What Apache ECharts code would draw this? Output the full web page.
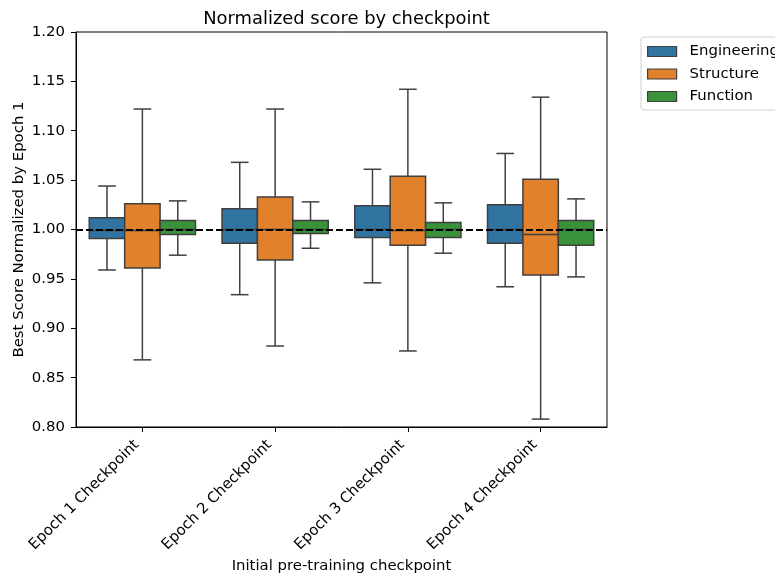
<!DOCTYPE html>
<html><head><meta charset="utf-8">
<script src="https://cdn.jsdelivr.net/npm/echarts@6/dist/echarts.min.js"></script>
<style>html,body{margin:0;padding:0;background:#fff}#c{width:775px;height:578px}</style>
</head><body><div id="c"></div>
<script>
const categories = ['Epoch 1 Checkpoint','Epoch 2 Checkpoint','Epoch 3 Checkpoint','Epoch 4 Checkpoint'];
const seriesNames = ['Engineering','Structure','Function'];
const seriesColors = ['#3274a1','#e1812c','#3a923a'];
// [lowWhisker, Q1, median, Q3, highWhisker]
const engineering = [
  [0.959, 0.991, 0.999, 1.012, 1.044],
  [0.934, 0.986, 1.000, 1.021, 1.068],
  [0.946, 0.992, 1.000, 1.024, 1.061],
  [0.942, 0.986, 1.000, 1.025, 1.077]
];
const structure = [
  [0.868, 0.961, 0.999, 1.026, 1.122],
  [0.882, 0.969, 1.000, 1.033, 1.122],
  [0.877, 0.984, 0.999, 1.054, 1.142],
  [0.808, 0.954, 0.995, 1.051, 1.134]
];
const func = [
  [0.974, 0.995, 1.000, 1.009, 1.029],
  [0.981, 0.996, 1.000, 1.009, 1.028],
  [0.976, 0.992, 1.000, 1.007, 1.027],
  [0.952, 0.984, 1.000, 1.009, 1.031]
];
const yTicks = [0.80,0.85,0.90,0.95,1.00,1.05,1.10,1.15,1.20];
const refLine = 1.0;

const allData = [engineering, structure, func];
const FONT = 'DejaVu Sans';
const FS = 14.9;
const EDGE = '#3f3f3f';

function makeRender(s) {
  return function (params, api) {
    const cat = api.value(0);
    const band = api.size([1, 0])[0];
    const groupW = band * 0.8;
    const bw = groupW / 3;
    const cx = api.coord([cat, 1])[0] - groupW / 2 + bw * (s + 0.5);
    const y = i => api.coord([cat, api.value(i)])[1];
    const yl = y(1), yq1 = y(2), ym = y(3), yq3 = y(4), yh = y(5);
    const ls = {stroke: EDGE, lineWidth: 1.5};
    const cap = bw / 4;
    return {
      type: 'group',
      children: [
        {type: 'line', shape: {x1: cx, y1: yq3, x2: cx, y2: yh}, style: ls},
        {type: 'line', shape: {x1: cx, y1: yq1, x2: cx, y2: yl}, style: ls},
        {type: 'line', shape: {x1: cx - cap, y1: yh, x2: cx + cap, y2: yh}, style: ls},
        {type: 'line', shape: {x1: cx - cap, y1: yl, x2: cx + cap, y2: yl}, style: ls},
        {type: 'rect', shape: {x: cx - bw / 2, y: yq3, width: bw, height: yq1 - yq3},
          style: {fill: seriesColors[s], stroke: EDGE, lineWidth: 1.5}},
        {type: 'line', shape: {x1: cx - bw / 2, y1: ym, x2: cx + bw / 2, y2: ym}, style: ls}
      ]
    };
  };
}

const series = seriesNames.map((name, s) => ({
  name: name,
  type: 'custom',
  renderItem: makeRender(s),
  itemStyle: {color: seriesColors[s]},
  encode: {x: 0, y: [1, 2, 3, 4, 5]},
  data: allData[s].map((d, i) => [i].concat(d)),
  z: 2
}));
series.push({
  name: 'ref',
  type: 'line',
  data: [],
  z: 5,
  markLine: {
    silent: true,
    symbol: 'none',
    label: {show: false},
    lineStyle: {color: '#000', width: 2, type: [7, 3]},
    data: [{yAxis: refLine}]
  }
});

const chart = echarts.init(document.getElementById('c'), null, {renderer: 'canvas'});
chart.setOption({
  animation: false,
  backgroundColor: '#fff',
  textStyle: {fontFamily: FONT},
  title: {
    text: 'Normalized score by checkpoint',
    left: 341.5, top: 5, textAlign: 'center',
    textStyle: {fontFamily: FONT, fontSize: 17.9, fontWeight: 'normal', color: '#000'}
  },
  legend: {
    orient: 'vertical', left: 641, top: 37,
    padding: [7, 10, 6, 6],
    itemWidth: 29, itemHeight: 10, itemGap: 7.5,
    backgroundColor: '#fff', borderColor: '#d0d0d0', borderWidth: 1, borderRadius: 3,
    textStyle: {fontFamily: FONT, fontSize: FS, color: '#000', padding: [0, 0, 0, 8]},
    icon: 'rect',
    data: seriesNames.map((n, s) => ({name: n, itemStyle: {color: seriesColors[s], borderColor: EDGE, borderWidth: 1.2}}))
  },
  grid: {left: 76, right: 168, top: 32, bottom: 151, show: true, borderColor: '#000', borderWidth: 1,
    backgroundColor: 'transparent', containLabel: false, outerBoundsMode: 'none'},
  xAxis: {
    type: 'category',
    data: categories,
    name: 'Initial pre-training checkpoint',
    nameLocation: 'middle', nameGap: 132, nameMoveOverlap: false,
    nameTextStyle: {fontFamily: FONT, fontSize: FS, color: '#000'},
    axisLine: {lineStyle: {color: '#000', width: 1}},
    axisTick: {show: true, alignWithLabel: true, length: 5, lineStyle: {color: '#000'}},
    axisLabel: {rotate: 45, fontFamily: FONT, fontSize: FS, color: '#000', margin: 10, interval: 0, padding: [0, 8, 0, 0]},
    splitLine: {show: false}
  },
  yAxis: {
    type: 'value',
    min: 0.8, max: 1.2, interval: 0.05,
    name: 'Best Score Normalized by Epoch 1',
    nameLocation: 'middle', nameGap: 49, nameMoveOverlap: false,
    nameTextStyle: {fontFamily: FONT, fontSize: FS, color: '#000'},
    axisLine: {show: true, lineStyle: {color: '#000', width: 1}},
    axisTick: {show: true, length: 5, lineStyle: {color: '#000'}},
    axisLabel: {fontFamily: FONT, fontSize: FS, color: '#000', margin: 11,
      formatter: v => { const t = yTicks.find(x => Math.abs(x - v) < 1e-6); return (t !== undefined ? t : v).toFixed(2); }},
    splitLine: {show: false}
  },
  series: series
});
</script></body></html>
